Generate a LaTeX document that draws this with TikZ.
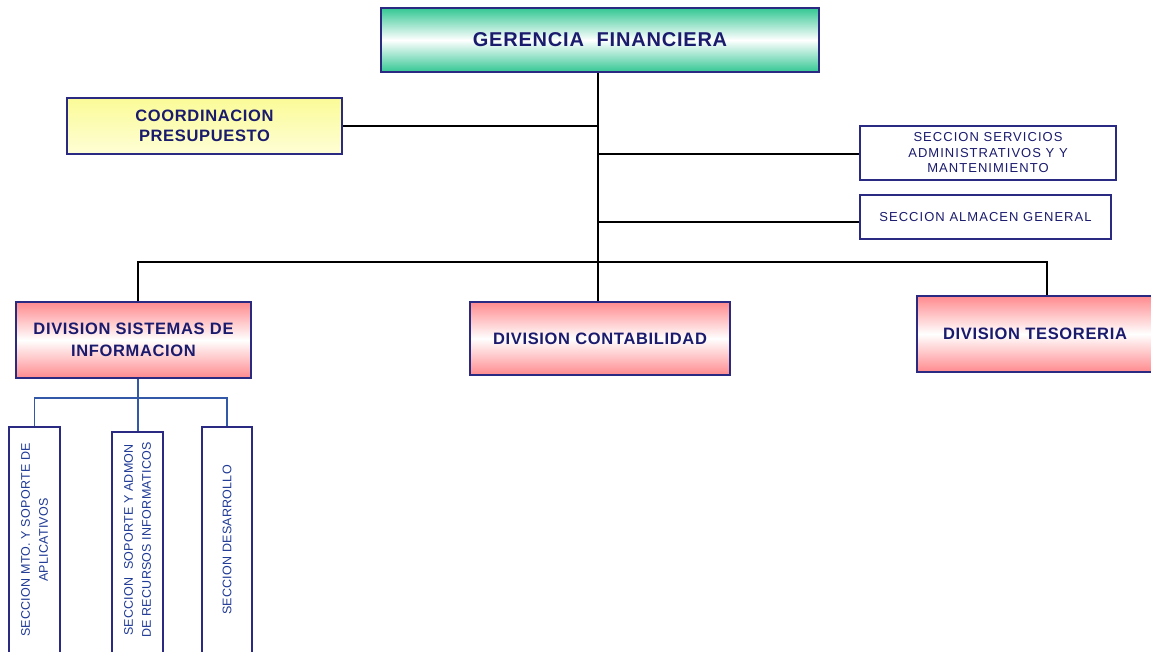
\documentclass[tikz,border=0pt]{standalone}
\usepackage{fontspec}
\setmainfont{Liberation Sans}
\newfontfamily\headfont[LetterSpace=4]{Liberation Sans}
\newfontfamily\secfont[LetterSpace=8]{Liberation Sans}
\newfontfamily\vertfont[LetterSpace=2]{Liberation Sans}
\definecolor{navy}{HTML}{1B1B6E}
\definecolor{boxline}{HTML}{2A2A82}
\definecolor{subline}{HTML}{3358A8}
\definecolor{vtext}{HTML}{1F3A95}
\definecolor{mint}{HTML}{34C794}
\definecolor{rosy}{HTML}{FF8A8E}
\definecolor{paleyel}{HTML}{FBFB98}
\definecolor{paleyel2}{HTML}{FEFED6}
\tikzset{
  orgbox/.style={draw=boxline, line width=1.6pt, rectangle, inner sep=0pt,
    align=center, text=navy},
  topbox/.style={orgbox, top color=mint, bottom color=mint, middle color=white,
    font=\headfont\bfseries\fontsize{20}{24}\selectfont},
  yelbox/.style={orgbox, top color=paleyel, bottom color=paleyel2,
    font=\headfont\bfseries\fontsize{16.5}{20}\selectfont},
  divbox/.style={orgbox, top color=rosy, bottom color=rosy, middle color=white,
    font=\headfont\bfseries\fontsize{16.5}{22}\selectfont},
  secbox/.style={orgbox, fill=white, line width=1.4pt,
    font=\secfont\fontsize{13}{15.5}\selectfont},
  vbox/.style={orgbox, fill=white, line width=1.4pt, text=vtext},
  vlabel/.style={rotate=90, align=center, text=vtext, inner sep=0pt,
    font=\vertfont\fontsize{12.5}{18}\selectfont},
  link/.style={draw=black, line width=1.3pt},
  sublink/.style={draw=subline, line width=1.3pt}
}
\begin{document}
\begin{tikzpicture}[x=1pt,y=-1pt]
\useasboundingbox (0,0) rectangle (1151,651);
\fill[white] (0,0) rectangle (1151,651);

% top management
\node[topbox, minimum width=438pt, minimum height=64pt] (gf) at (600,40)
  {GERENCIA\ \ FINANCIERA};

% staff units
\node[yelbox, minimum width=275pt, minimum height=56pt] (cp) at (204.5,126)
  {COORDINACION\\PRESUPUESTO};
\node[secbox, minimum width=256pt, minimum height=54pt] (ss) at (988,153)
  {SECCION SERVICIOS\\ADMINISTRATIVOS Y Y\\MANTENIMIENTO};
\node[secbox, minimum width=251pt, minimum height=44pt] (sa) at (985.5,217)
  {SECCION ALMACEN GENERAL};

% divisions
\node[divbox, minimum width=235pt, minimum height=76pt] (ds) at (133.5,340)
  {DIVISION SISTEMAS DE\\INFORMACION};
\node[divbox, minimum width=260pt, minimum height=73pt] (dc) at (600,338.5)
  {DIVISION CONTABILIDAD};
\node[divbox, minimum width=236pt, minimum height=76pt] (dt) at (1035,334)
  {DIVISION TESORERIA};

% sections under the systems division
\node[vbox, minimum width=51pt, minimum height=233pt] (v1) at (34.5,543.5) {};
\node[vbox, minimum width=51pt, minimum height=228pt] (v2) at (137.5,546) {};
\node[vbox, minimum width=50pt, minimum height=233pt] (v3) at (227,543.5) {};
\node[vlabel] (t1) at (34.5,540) {SECCION MTO. Y SOPORTE DE\\APLICATIVOS};
\node[vlabel] (t2) at (137.5,540) {SECCION\ \ SOPORTE Y ADMON\\DE RECURSOS INFORMATICOS};
\node[vlabel] (t3) at (227,540) {SECCION DESARROLLO};

% main connectors
\coordinate (bus) at (0,262);
\draw[link] (gf.south -| 598,0) -- (dc.north -| 598,0);
\draw[link] (cp.east) -- (cp.east -| 598,0);
\draw[link] (598,154) -- (ss.west |- 598,154);
\draw[link] (598,222) -- (sa.west |- 598,222);
\draw[link] ([xshift=4.5pt]ds.north) -- ([xshift=4.5pt]ds.north |- bus)
  -- ([xshift=12pt]dt.north |- bus) -- ([xshift=12pt]dt.north);

% connectors inside the systems division
\coordinate (sbus) at (0,398);
\draw[sublink] ([xshift=4.5pt]ds.south) -- ([xshift=4.5pt]ds.south |- v2.north);
\draw[sublink] (v1.north) -- (v1.north |- sbus) -- (v3.north |- sbus) -- (v3.north);
\end{tikzpicture}
\end{document}
